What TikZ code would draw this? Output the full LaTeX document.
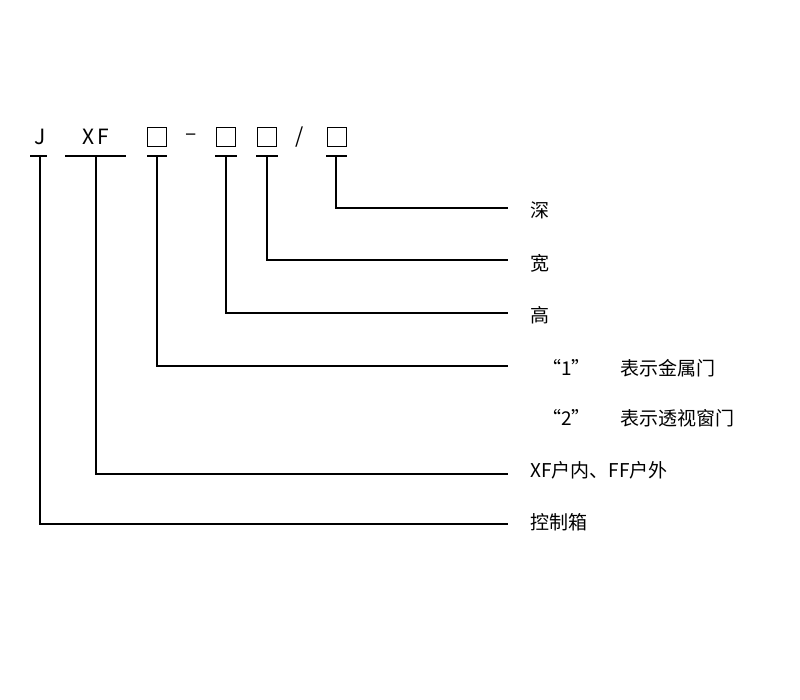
\documentclass[tikz,border=0pt]{standalone}
\usepackage{fontspec}
\setmainfont{Noto Sans CJK SC}
\begin{document}
\begin{tikzpicture}[x=1pt,y=-1pt,
  ln/.style={line width=1.3pt,black},
  bx/.style={draw,line width=1.1pt,minimum size=19pt,inner sep=0pt},
  lb/.style={anchor=west,font=\fontsize{19}{22}\selectfont,inner sep=0pt},
  tp/.style={font=\fontsize{21}{24}\selectfont,inner sep=0pt}]
\useasboundingbox[fill=white] (0,0) rectangle (800,700);
\node[tp] (J) at (40,137) {J};
\node[tp] (XF) at (96,137) {X\,F};
\node[bx] (b1) at (157,137) {};
\node[tp] (d) at (191,137) {–};
\node[bx] (b2) at (226,137) {};
\node[bx] (b3) at (267,137) {};
\node[tp] (s) at (300,137) {/};
\node[bx] (b4) at (337,137) {};
\coordinate (e1) at (508,208);
\coordinate (e2) at (508,260);
\coordinate (e3) at (508,313);
\coordinate (e4) at (508,366);
\coordinate (e5) at (508,474);
\coordinate (e6) at (508,524);
\draw[ln] (30,156) -- (47,156);
\draw[ln] (65,156) -- (126,156);
\draw[ln] (147,156) -- (167,156);
\draw[ln] (215,156) -- (237,156);
\draw[ln] (256,156) -- (278,156);
\draw[ln] (326,156) -- (347,156);
\draw[ln] (336,156) |- (e1);
\draw[ln] (267,156) |- (e2);
\draw[ln] (226,156) |- (e3);
\draw[ln] (157,156) |- (e4);
\draw[ln] (96,156) |- (e5);
\draw[ln] (40,156) |- (e6);
\node[lb] (t1) at (530,210) {深};
\node[lb] (t2) at (530,263) {宽};
\node[lb] (t3) at (530,315) {高};
\node[lb] (t4) at (542,368) {“1”\hspace{30pt}表示金属门};
\node[lb] (t5) at (542,418) {“2”\hspace{30pt}表示透视窗门};
\node[lb] (t6) at (530,470) {XF户内、FF户外};
\node[lb] (t7) at (530,522) {控制箱};
\end{tikzpicture}
\end{document}
